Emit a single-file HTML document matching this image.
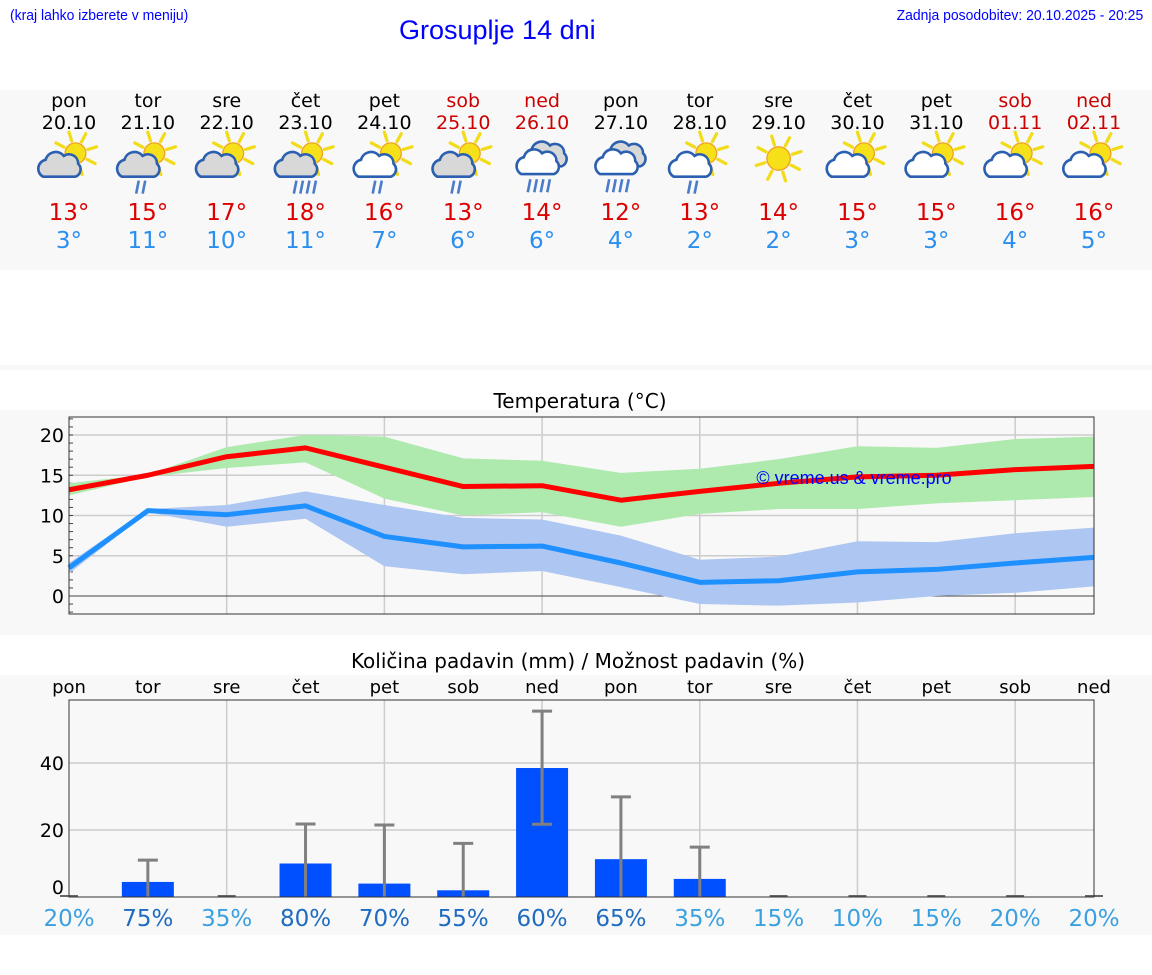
<!DOCTYPE html>
<html><head><meta charset="utf-8"><style>
body{margin:0;width:1152px;height:975px;background:#fff;font-family:"DejaVu Sans","Liberation Sans",sans-serif;overflow:hidden;position:relative}
.a{position:absolute}
</style></head><body>
<div class="a" style="left:10px;top:7px;font:15px 'Liberation Sans',sans-serif;color:#0000ff;transform:scaleX(0.93);transform-origin:left">(kraj lahko izberete v meniju)</div>
<div class="a" style="left:399px;top:15px;font:27px 'Liberation Sans',sans-serif;color:#0000ff">Grosuplje 14 dni</div>
<div class="a" style="right:9px;top:7px;font:15px 'Liberation Sans',sans-serif;color:#0000ff;transform:scaleX(0.93);transform-origin:right">Zadnja posodobitev: 20.10.2025 - 20:25</div>
<svg class="a" style="left:0;top:0" width="1152" height="975" id="svg"></svg>
<script>
const days=["pon","tor","sre","čet","pet","sob","ned","pon","tor","sre","čet","pet","sob","ned"];
const dates=["20.10","21.10","22.10","23.10","24.10","25.10","26.10","27.10","28.10","29.10","30.10","31.10","01.11","02.11"];
const icons=["pc","pcr","pc","pcrr","psr","pcr","crr","crr","psr","s","ps","ps","ps","ps"];
const tmax=[13,15,17,18,16,13,14,12,13,14,15,15,16,16];
const tmin=[3,11,10,11,7,6,6,4,2,2,3,3,4,5];
const maxLine=[13.2,15,17.3,18.4,16,13.6,13.7,11.9,13,14,14.8,15,15.7,16.1];
const minLine=[3.5,10.6,10.1,11.2,7.4,6.1,6.2,4.1,1.7,1.9,3,3.3,4.1,4.8];
const maxHi=[14,15.1,18.5,20,19.8,17.1,16.8,15.3,15.8,17,18.6,18.4,19.5,19.8];
const maxLo=[12.5,14.8,15.9,16.6,12.1,10,10.4,8.6,10.2,10.8,10.8,11.5,11.9,12.3];
const minHi=[4.1,10.8,11.3,13,11.3,9.7,9.5,7.5,4.5,4.9,6.8,6.7,7.8,8.5];
const minLo=[2.8,10.4,8.6,9.6,3.7,2.7,3.1,1.1,-1,-1.2,-0.8,0,0.4,1.2];
const tempTicks=[0,5,10,15,20];
const precip=[0,4.5,0,10,4,2,38.5,11.3,5.4,0,0,0,0,0];
const precipLo=[0,0,0,0,0,0,21.7,0,0,0,0,0,0,0];
const precipHi=[0,11,0,21.8,21.5,16,55.5,29.9,14.9,0,0,0,0,0];
const chance=[20,75,35,80,70,55,60,65,35,15,10,15,20,20];
const precipTicks=[0,20,40];

const S=document.getElementById('svg');const NS="http://www.w3.org/2000/svg";
function el(t,a,p){const e=document.createElementNS(NS,t);for(const k in a)e.setAttribute(k,a[k]);(p||S).appendChild(e);return e;}
function txt(x,y,s,a){const e=el('text',Object.assign({x:x,y:y,'text-anchor':'middle','font-family':'DejaVu Sans, Liberation Sans, sans-serif'},a));e.textContent=s;return e;}
const X0=69,X1=1094,dx=(X1-X0)/13;const X=i=>X0+i*dx;
el('rect',{x:0,y:90,width:1152,height:180,fill:'#f8f8f8'});
el('rect',{x:0,y:365,width:1152,height:5,fill:'#f8f8f8'});
el('rect',{x:0,y:410,width:1152,height:225,fill:'#f8f8f8'});
el('rect',{x:0,y:675,width:1152,height:260,fill:'#f8f8f8'});
function sun(g,cx,cy,r){for(let k=0;k<8;k++){const a=k*Math.PI/4-0.3;el('line',{x1:cx+Math.cos(a)*(r+2),y1:cy+Math.sin(a)*(r+2),x2:cx+Math.cos(a)*(r+9),y2:cy+Math.sin(a)*(r+9),stroke:'#f2dc1a','stroke-width':2.5,'stroke-linecap':'round'},g);}el('circle',{cx:cx,cy:cy,r:r,fill:'#f5e01a',stroke:'#f0a020','stroke-width':1},g);}
function cloud(g,cx,cy,s,fill){el('path',{d:`M${cx-14*s},${cy+8*s} a7 7 0 0 1 2 -13 a8 8 0 0 1 14 -3 a7 7 0 0 1 11 6 a6 6 0 0 1 -2 10 z`,fill:fill,stroke:'#2b5fb0','stroke-width':2,transform:`translate(${cx},${cy}) scale(${s}) translate(${-cx},${-cy})`},g);}
function rain(g,cx,cy,n){for(let k=0;k<n;k++)el('line',{x1:cx+k*5+1,y1:cy,x2:cx+k*5-1,y2:cy+10,stroke:'#4a7cc8','stroke-width':2},g);}
for(let i=0;i<14;i++){const x=X(i);const we=(i==5||i==6||i==12||i==13);
 const g=el('g',{});
 txt(x,107,days[i],{'font-size':19,fill:we?'#cc0000':'#000'});
 txt(x,129,dates[i],{'font-size':19,fill:we?'#cc0000':'#000'});
 const ic=el('g',{transform:`translate(${x},165) scale(1.3) translate(${-x},-165)`},g);
 const t=icons[i],cy=160;
 if(t=='s'){sun(ic,x,cy,9);}
 else if(t[0]=='p'){sun(ic,x+5,cy-4,8);cloud(ic,x-6,cy+6,1,t[1]=='s'?'#fff':'#d8d8d8');if(t.indexOf('r')>0)rain(ic,x-8,cy+17,t.endsWith('rr')?4:2);}
 else{cloud(ic,x+4,cy-2,1,'#d8d8d8');cloud(ic,x-2,cy+4,1,'#fff');rain(ic,x-10,cy+16,4);}
 txt(x,220,tmax[i]+'°',{'font-size':23,fill:'#dd0000'});
 txt(x,248,tmin[i]+'°',{'font-size':23,fill:'#2a8ff0'});
}
const TY=v=>596-v*8.05;
txt(580,408,'Temperatura (°C)',{'font-size':20,fill:'#000'});
el('rect',{x:X0,y:417,width:X1-X0,height:197,fill:'#f8f8f8'});
for(let i=2;i<13;i+=2)el('line',{x1:X(i),x2:X(i),y1:417,y2:614,stroke:'#ccc','stroke-width':1.5});
tempTicks.forEach(v=>{el('line',{x1:X0,x2:X1,y1:TY(v),y2:TY(v),stroke:v==0?'#444':'#ccc','stroke-width':v==0?1:1.5});txt(64,TY(v)+7,v,{'font-size':19,'text-anchor':'end'});});
for(let v=-2;v<=22;v++)el('line',{x1:X0,x2:X0+4,y1:TY(v),y2:TY(v),stroke:'#444'});
function band(hi,lo,col,name){let d='M'+hi.map((v,i)=>X(i)+','+TY(v)).join('L')+'L'+lo.map((v,i)=>X(i)+','+TY(v)).reverse().join('L')+'Z';const p=el('path',{d:d,fill:col});}
band(maxHi,maxLo,'#aeeaae','max-range-band');band(minHi,minLo,'#aec6f2','min-range-band');
function line(a,col,name){const p=el('polyline',{points:a.map((v,i)=>X(i)+','+TY(v)).join(' '),fill:'none',stroke:col,'stroke-width':5,'stroke-linejoin':'round'});}
line(maxLine,'#ff0000','max-temp-line');line(minLine,'#1e90ff','min-temp-line');
el('rect',{x:X0,y:417,width:X1-X0,height:197,fill:'none',stroke:'#333'});
txt(854,484,'© vreme.us & vreme.pro',{'font-size':18,fill:'#0000ff','font-family':'Liberation Sans, sans-serif'});
const PY=v=>897-v*3.35;
txt(578,668,'Količina padavin (mm) / Možnost padavin (%)',{'font-size':20});
for(let i=0;i<14;i++)txt(X(i),693,days[i],{'font-size':18});
el('rect',{x:X0,y:700,width:X1-X0,height:197,fill:'#f8f8f8'});
for(let i=2;i<13;i+=2)el('line',{x1:X(i),x2:X(i),y1:700,y2:897,stroke:'#ccc','stroke-width':1.5});
precipTicks.forEach(v=>{if(v>0)el('line',{x1:X0,x2:X1,y1:PY(v),y2:PY(v),stroke:'#ccc','stroke-width':1.5});txt(64,PY(v)+(v==0?-3:7),v,{'font-size':19,'text-anchor':'end'});});
for(let i=0;i<14;i++){const x=X(i);
 if(precip[i]>0){const r=el('rect',{x:x-26,y:PY(precip[i]),width:52,height:PY(0)-PY(precip[i]),fill:'#0050ff'});}
 if(precipHi[i]>0){el('line',{x1:x,x2:x,y1:PY(precipLo[i]),y2:PY(precipHi[i]),stroke:'#808080','stroke-width':3});el('line',{x1:x-10,x2:x+10,y1:PY(precipHi[i]),y2:PY(precipHi[i]),stroke:'#808080','stroke-width':3});if(precipLo[i]>0)el('line',{x1:x-10,x2:x+10,y1:PY(precipLo[i]),y2:PY(precipLo[i]),stroke:'#808080','stroke-width':3});}
 else el('line',{x1:x-9,x2:x+9,y1:896,y2:896,stroke:'#666','stroke-width':2});
 txt(x,926,chance[i]+'%',{'font-size':23,fill:chance[i]>=55?'#1e6bc0':'#3aa0e0'});
}
el('rect',{x:X0,y:700,width:X1-X0,height:197,fill:'none',stroke:'#333'});
</script>
</body></html>
